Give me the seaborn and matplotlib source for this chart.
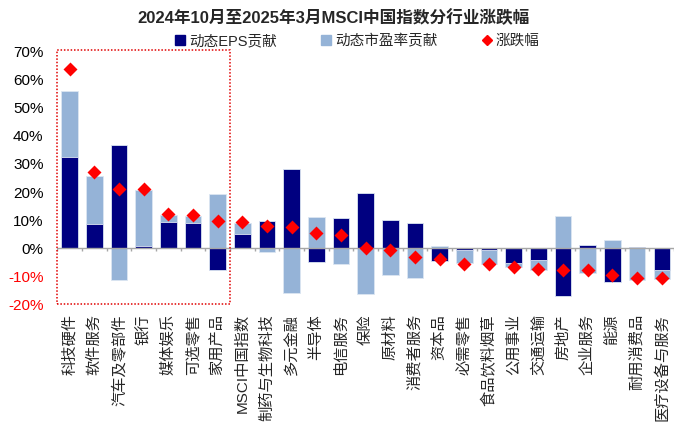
import numpy as np
import pandas as pd
import matplotlib
matplotlib.use('Agg')
import matplotlib.pyplot as plt
from matplotlib.lines import Line2D
from matplotlib.patches import Rectangle
import seaborn as sns

# 数据（单位：%）
industries = ['科技硬件', '软件服务', '汽车及零部件', '银行', '媒体娱乐', '可选零售', '家用产品',
              'MSCI中国指数', '制药与生物科技', '多元金融', '半导体', '电信服务', '保险', '原材料',
              '消费者服务', '资本品', '必需零售', '食品饮料烟草', '公用事业', '交通运输', '房地产',
              '企业服务', '能源', '耐用消费品', '医疗设备与服务']
eps_contrib = [32.4, 8.5, 36.9, 0.8, 9.3, 8.8, -7.7,
               5.0, 9.8, 28.1, -5.1, 10.8, 19.7, 10.0,
               8.9, -4.5, -0.6, -0.8, -5.3, -4.2, -17.2,
               1.2, -12.1, 0.5, -7.7]
pe_contrib = [23.6, 17.2, -11.5, 20.0, 2.4, 2.6, 19.3,
              4.1, -1.5, -16.0, 11.2, -5.6, -16.4, -9.5,
              -10.8, 0.95, -4.7, -5.0, -1.5, -3.5, 11.3,
              -9.0, 3.0, -11.3, -3.3]
change = [63.7, 27.3, 21.0, 21.0, 12.2, 11.7, 9.7,
          9.4, 7.9, 7.5, 5.5, 4.6, 0.0, -0.7,
          -3.1, -3.8, -5.5, -5.7, -6.6, -7.5, -7.7,
          -7.7, -9.4, -10.8, -10.8]
y_ticks = [-20, -10, 0, 10, 20, 30, 40, 50, 60, 70]

NAVY = '#000080'
LIGHT = '#95B3D7'
RED = '#FF0000'

sns.set_style('white')
plt.rcParams['font.family'] = ['Liberation Sans', 'Noto Sans CJK SC', 'DejaVu Sans']
plt.rcParams['axes.unicode_minus'] = False

df = pd.DataFrame({'industry': industries, 'eps': eps_contrib,
                   'pe': pe_contrib, 'chg': change})
# 正负分别堆叠：同号时市盈率部分叠在EPS之上
same_sign = np.sign(df['eps']) == np.sign(df['pe'])
df['pe_stack'] = np.where(same_sign, df['eps'] + df['pe'], df['pe'])

fig = plt.figure(figsize=(7, 4.3), dpi=100)
ax = fig.add_axes([0.082, 0.2923, 0.881, 0.5875])

sns.barplot(data=df, x='industry', y='pe_stack', color=LIGHT, saturation=1,
            width=0.67, edgecolor='#DCE6F2', linewidth=0.6, ax=ax)
sns.barplot(data=df, x='industry', y='eps', color=NAVY, saturation=1,
            width=0.67, edgecolor='#DCE6F2', linewidth=0.6, ax=ax)
sns.pointplot(data=df, x='industry', y='chg', color=RED, markers='D',
              linestyle='none', markersize=5.6, errorbar=None, ax=ax, zorder=5)

n = len(industries)
ax.set_xlim(-0.5, n - 0.5)
ax.set_ylim(-20, 70)
ax.axhline(0, color='#A6A6A6', linewidth=1, zorder=3)
ax.vlines(np.arange(n + 1) - 0.5, -0.9, 0, color='#A6A6A6', linewidth=1, zorder=3)

ax.set_yticks(y_ticks)
ax.set_yticklabels([f'{v}%' for v in y_ticks], fontsize=11)
for lab, v in zip(ax.get_yticklabels(), y_ticks):
    lab.set_color(RED if v < 0 else '#000000')
ax.set_xticks(range(n))
ax.set_xticklabels(industries, rotation=90, fontsize=11)
ax.tick_params(axis='x', length=0, pad=7)
ax.tick_params(axis='y', length=0, pad=10)
ax.set_xlabel('')
ax.set_ylabel('')
for s in ax.spines.values():
    s.set_visible(False)

# 红色虚线框
ax.add_patch(Rectangle((-0.5, -20), 7, 90.6, fill=False, edgecolor='#E00000',
                       linestyle=(0, (1, 1.2)), linewidth=1.1, clip_on=False, zorder=6))

fig.text(0.477, 0.958, '2024年10月至2025年3月MSCI中国指数分行业涨跌幅',
         ha='center', va='center', fontsize=12, fontweight='bold')

handles = [Line2D([], [], marker='s', color=NAVY, linestyle='none', markersize=7),
           Line2D([], [], marker='s', color=LIGHT, linestyle='none', markersize=7),
           Line2D([], [], marker='D', color=RED, linestyle='none', markersize=5.5)]
fig.legend(handles, ['动态EPS贡献', '动态市盈率贡献', '涨跌幅'], loc='center',
           bbox_to_anchor=(0.509, 0.905), ncol=3, frameon=False, fontsize=10.5,
           handletextpad=0.1, columnspacing=2.9, handlelength=1.0)

fig.savefig('out.png', dpi=100)
